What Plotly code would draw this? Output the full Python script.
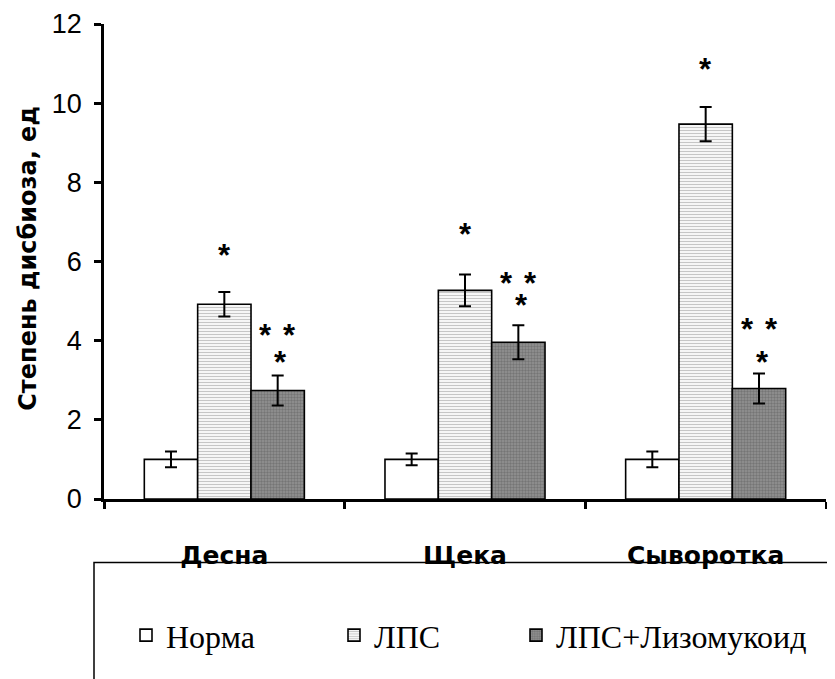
import plotly.graph_objects as go

categories = ["Десна", "Щека", "Сыворотка"]
series_names = ["Норма", "ЛПС", "ЛПС+Лизомукоид"]
norma = [1.0, 1.0, 1.0]
norma_err = [0.2, 0.15, 0.2]
lps = [4.92, 5.27, 9.47]
lps_err = [0.31, 0.4, 0.43]
lps_liz = [2.74, 3.96, 2.79]
lps_liz_err = [0.38, 0.43, 0.38]
y_ticks = [0, 2, 4, 6, 8, 10, 12]

# significance marks: (category, series index, y value of mark centre, text)
marks = [
    ("Десна", 1, 6.35, "*"), ("Десна", 2, 4.33, "* *"), ("Десна", 2, 3.65, "*"),
    ("Щека", 1, 6.89, "*"), ("Щека", 2, 5.64, "* *"), ("Щека", 2, 5.08, "*"),
    ("Сыворотка", 1, 11.05, "*"), ("Сыворотка", 2, 4.48, "* *"), ("Сыворотка", 2, 3.65, "*"),
]

# page body has an 8px margin, so figure is offset by 8px
OFF = 8
W, H = 835 - OFF, 679 - OFF
ML, MR, MT = 104 - OFF, 9, 24 - OFF
MB = H - (499.5 - OFF)
plot_w = W - ML - MR
plot_h = H - MT - MB
BARGAP = 0.335
bar_w = plot_w / 3 * (1 - BARGAP) / 3


def sy(screen_y):
    """screen y (px in reference) -> paper coordinate"""
    return (MT + plot_h - (screen_y - OFF)) / plot_h


def sx(screen_x):
    return ((screen_x - OFF) - ML) / plot_w


fig = go.Figure()
err_style = dict(type="data", thickness=2, width=6, color="black")
fig.add_trace(go.Bar(
    x=categories, y=norma, name=series_names[0],
    error_y=dict(array=norma_err, **err_style),
    marker=dict(color="white", line=dict(color="black", width=1.6)),
    legendwidth=163,
))
fig.add_trace(go.Bar(
    x=categories, y=lps, name=series_names[1],
    error_y=dict(array=lps_err, **err_style),
    marker=dict(color="white", line=dict(color="black", width=1.6),
                pattern=dict(shape="-", fgcolor="#8e8e8e", bgcolor="white",
                             size=3, solidity=0.45, fillmode="overlay")),
    legendwidth=137,
))
fig.add_trace(go.Bar(
    x=categories, y=lps_liz, name=series_names[2],
    error_y=dict(array=lps_liz_err, **err_style),
    marker=dict(color="#808080", line=dict(color="black", width=1.6),
                pattern=dict(shape=".", fgcolor="#555555", bgcolor="#949494",
                             size=3, solidity=0.5)),
))

star_font = dict(family="Liberation Sans", size=31, color="black", weight="bold")
annotations = []
for cat, si, yv, txt in marks:
    off = (si - 1) * bar_w
    if txt == "* *":
        for dx in (-12, 12):
            annotations.append(dict(x=cat, y=yv, xref="x", yref="y", text="*",
                                    showarrow=False, xshift=off + dx, yshift=-8,
                                    font=star_font))
    else:
        annotations.append(dict(x=cat, y=yv, xref="x", yref="y", text=txt,
                                showarrow=False, xshift=off + 3 if si == 2 else off, yshift=-8,
                                font=star_font))

annotations.append(dict(
    x=sx(28), y=sy(259), xref="paper", yref="paper", xanchor="center", yanchor="middle",
    text="Степень дисбиоза, ед", textangle=-90, showarrow=False,
    font=dict(family="DejaVu Sans", size=24, color="black", weight="bold"),
))

fig.update_layout(
    width=W, height=H,
    margin=dict(l=ML, r=MR, t=MT, b=MB, autoexpand=False),
    paper_bgcolor="white", plot_bgcolor="white",
    barmode="group", bargap=BARGAP, bargroupgap=0,
    showlegend=True,
    legend=dict(orientation="h", x=sx(126), xanchor="left",
                y=sy(636), yanchor="middle",
                font=dict(family="Liberation Serif", size=32, color="black"),
                bgcolor="rgba(0,0,0,0)", borderwidth=0, traceorder="normal"),
    annotations=annotations,
    shapes=[dict(type="rect", xref="paper", yref="paper",
                 x0=sx(94), x1=1.2,
                 y0=sy(563), y1=-0.6,
                 line=dict(color="black", width=1.5), fillcolor="rgba(0,0,0,0)",
                 layer="above")],
    xaxis=dict(showline=True, linecolor="black", linewidth=3,
               ticks="outside", tickson="boundaries", ticklen=7, tickwidth=3, tickcolor="black",
               tickfont=dict(family="DejaVu Sans", size=25, color="black", weight="bold"),
               ticklabelstandoff=32, showgrid=False, zeroline=False),
    yaxis=dict(range=[0, 12], tickvals=y_ticks, showline=True, linecolor="black", linewidth=2.5,
               ticks="outside", ticklen=7, tickwidth=2.5, tickcolor="black",
               tickfont=dict(family="Liberation Sans", size=27, color="black"),
               ticklabelstandoff=7, showgrid=False, zeroline=False),
)

fig.write_html("out.html")
